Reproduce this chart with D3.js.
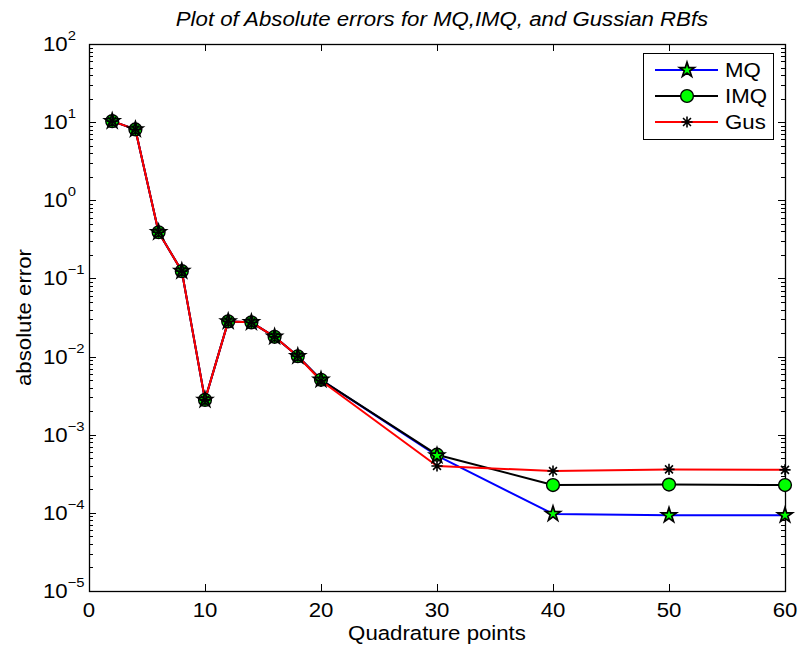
<!DOCTYPE html>
<html>
<head>
<meta charset="utf-8">
<script src="https://cdn.jsdelivr.net/npm/d3@7"></script>
<style>
  html, body { margin: 0; padding: 0; background: #fff; }
  svg { display: block; font-family: Arial, "Liberation Sans", Helvetica, sans-serif; }
</style>
</head>
<body>
<svg id="chart" width="798" height="652"></svg>
<script>
// Quadrature point counts
const quadPoints = [2, 4, 6, 8, 10, 12, 14, 16, 18, 20, 30, 40, 50, 60];

// Absolute errors for each radial basis function
const errMQ  = [10.3, 8.07, 0.39, 0.124, 0.00279, 0.0282, 0.0274, 0.0179, 0.0101, 0.00504, 5.4e-4, 9.7e-5, 9.3e-5, 9.3e-5];
const errIMQ = [10.3, 8.07, 0.39, 0.124, 0.00279, 0.0282, 0.0274, 0.0179, 0.0101, 0.00504, 5.55e-4, 2.27e-4, 2.3e-4, 2.27e-4];
const errGus = [10.3, 8.07, 0.39, 0.124, 0.00279, 0.0282, 0.0274, 0.0179, 0.0101, 0.00490, 3.98e-4, 3.43e-4, 3.6e-4, 3.55e-4];

const seriesNames = ["MQ", "IMQ", "Gus"];
const xTicks = [0, 10, 20, 30, 40, 50, 60];
const yExponents = [-5, -4, -3, -2, -1, 0, 1, 2];

const titleText = "Plot of Absolute errors for MQ,IMQ, and Gussian RBfs";
const xLabel = "Quadrature points";
const yLabel = "absolute error";

const svg = d3.select("#chart");
const L = 89, R = 785, T = 44, B = 591;
const FS = 19.5;      // base font size
const SX = 1.14;      // horizontal text widening

const x = d3.scaleLinear().domain([0, 60]).range([L, R]);
const y = d3.scaleLog().domain([1e-5, 1e2]).range([B, T]);

const series = [
  { name: seriesNames[0], values: errMQ,  color: "#0000ff", marker: "star" },
  { name: seriesNames[1], values: errIMQ, color: "#000000", marker: "circle" },
  { name: seriesNames[2], values: errGus, color: "#ff0000", marker: "asterisk" }
];

// text placed at (tx, ty) with optional rotation and horizontal widening
function label(g, tx, ty, str, opts = {}) {
  const rot = opts.rotate ? ` rotate(${opts.rotate})` : "";
  return g.append("text")
    .attr("transform", `translate(${tx},${ty})${rot} scale(${SX},1)`)
    .attr("text-anchor", opts.anchor || "start")
    .attr("font-size", opts.size || FS)
    .attr("font-style", opts.italic ? "italic" : null)
    .text(str);
}

// plot background
svg.append("rect").attr("x", L).attr("y", T).attr("width", R - L).attr("height", B - T)
  .attr("fill", "#fff");

// ticks (inward on all four sides)
const tickG = svg.append("g").attr("stroke", "#000").attr("stroke-width", 1);
xTicks.forEach(v => {
  const px = Math.round(x(v)) + 0.5;
  tickG.append("line").attr("x1", px).attr("x2", px).attr("y1", B).attr("y2", B - 7);
  tickG.append("line").attr("x1", px).attr("x2", px).attr("y1", T).attr("y2", T + 7);
});
y.ticks().forEach(v => {
  const lg = Math.log10(v);
  const major = Math.abs(lg - Math.round(lg)) < 1e-9;
  const len = major ? 7 : 4;
  const py = Math.round(y(v)) + 0.5;
  tickG.append("line").attr("x1", L).attr("x2", L + len).attr("y1", py).attr("y2", py);
  tickG.append("line").attr("x1", R).attr("x2", R - len).attr("y1", py).attr("y2", py);
});

// axis box
svg.append("rect").attr("x", L + 0.5).attr("y", T + 0.5).attr("width", R - L).attr("height", B - T)
  .attr("fill", "none").attr("stroke", "#000").attr("stroke-width", 1.3);

// x tick labels
const xl = svg.append("g");
xTicks.forEach(d => label(xl, x(d), B + 26, d, { anchor: "middle" }));

// y tick labels with superscript exponents
const ylg = svg.append("g");
yExponents.forEach(d => {
  const t = label(ylg, 43, y(Math.pow(10, d)) + 7, "");
  t.append("tspan").text("10");
  t.append("tspan").attr("dy", -11).attr("font-size", 13)
    .text(d < 0 ? "\u2212" + Math.abs(d) : String(d));
});

// axis labels and title
label(svg, (L + R) / 2, 640, xLabel, { anchor: "middle" });
label(svg, 31, (T + B) / 2, yLabel, { anchor: "middle", rotate: -90 });
label(svg, 442, 26, titleText, { anchor: "middle", italic: true });

// lines
const line = d3.line().x((d, i) => x(quadPoints[i])).y(d => y(d));
svg.append("g").selectAll("path").data(series).join("path")
  .attr("d", s => line(s.values))
  .attr("fill", "none").attr("stroke", s => s.color).attr("stroke-width", 2)
  .attr("stroke-linejoin", "round");

// marker shapes
const starPath = d3.symbol(d3.symbolStar, 68)();
const circlePath = d3.symbol(d3.symbolCircle, Math.PI * 6.4 * 6.4)();
const a = 5.6, b = a * Math.SQRT1_2;
const asteriskPath = `M${-a},0L${a},0M0,${-a}L0,${a}M${-b},${-b}L${b},${b}M${-b},${b}L${b},${-b}`;

function drawMarker(g, kind, cx, cy) {
  if (kind === "circle") {
    g.append("path").attr("d", circlePath).attr("transform", `translate(${cx},${cy})`)
      .attr("fill", "#00ff00").attr("stroke", "#000").attr("stroke-width", 1.4);
  } else if (kind === "star") {
    g.append("path").attr("d", starPath).attr("transform", `translate(${cx},${cy})`)
      .attr("fill", "#00ff00").attr("stroke", "#000").attr("stroke-width", 1.7)
      .attr("stroke-linejoin", "miter");
  } else {
    g.append("path").attr("d", asteriskPath).attr("transform", `translate(${cx},${cy})`)
      .attr("fill", "none").attr("stroke", "#000").attr("stroke-width", 1.6);
  }
}

// markers: circles below, pentagrams above, asterisks on top
const markerG = svg.append("g");
["circle", "star", "asterisk"].forEach(kind => {
  const s = series.find(d => d.marker === kind);
  s.values.forEach((v, i) => drawMarker(markerG, kind, x(quadPoints[i]), y(v)));
});

// legend
const lgd = svg.append("g");
lgd.append("rect").attr("x", 643.5).attr("y", 53.5).attr("width", 130).attr("height", 86)
  .attr("fill", "#fff").attr("stroke", "#000").attr("stroke-width", 1);
const legendY = [70, 96, 122];
series.forEach((s, i) => {
  const ly = legendY[i];
  lgd.append("line").attr("x1", 655).attr("x2", 718).attr("y1", ly).attr("y2", ly)
    .attr("stroke", s.color).attr("stroke-width", 2);
  drawMarker(lgd, s.marker, 687, ly);
  label(lgd, 725, ly + 7, s.name);
});
</script>
</body>
</html>
